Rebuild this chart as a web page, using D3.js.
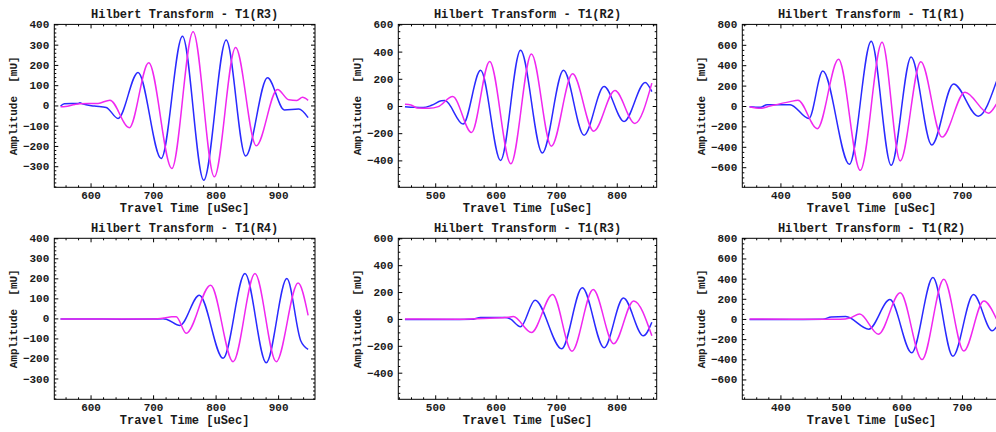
<!DOCTYPE html>
<html>
<head>
<meta charset="utf-8">
<script src="https://cdn.jsdelivr.net/npm/d3@7"></script>
<style>
  html, body { margin: 0; padding: 0; background: #fff; }
  svg { display: block; }
  .lbl { font-family: "Liberation Mono", "Courier New", monospace; font-weight: bold; fill: #1a1a1a; }
</style>
</head>
<body>
<svg id="chart" width="996" height="432"></svg>
<script>
// ---- panel titles (row-major: top row, then bottom row) ----
const titles = [
  "Hilbert Transform - T1(R3)", "Hilbert Transform - T1(R2)", "Hilbert Transform - T1(R1)",
  "Hilbert Transform - T1(R4)", "Hilbert Transform - T1(R3)", "Hilbert Transform - T1(R2)"
];

// ---- tick labels per column ----
const xTicksByCol = [[600, 700, 800, 900], [500, 600, 700, 800], [400, 500, 600, 700]];
const yTicksByCol = [
  [-300, -200, -100, 0, 100, 200, 300, 400],
  [-400, -200, 0, 200, 400, 600],
  [-600, -400, -200, 0, 200, 400, 600, 800]
];
const xMinorStep = 20;
const yMinorStepByCol = [20, 50, 50];

// ---- axis ranges per column ----
const timeRangeByCol = [[542, 959], [439, 866], [337, 764]];
const ampRangeByCol = [[-404, 400], [-598, 600], [-797, 800]];

// ---- waveforms: [travel time uSec, amplitude mU] ----
// T1(R3), upper row
const r3aSignal = [[552,-3],[558,8],[580,10],[583,13],[587,8],[606,-3],[625,-10],[644,-64],[676,163],[713,-262],[747,342],[781,-369],[817,323],[848,-250],[883,137],[910,-22],[933,-18],[948,-60]];
const r3aHilbert = [[552,-7],[560,-5],[575,5],[583,8],[612,10],[631,26],[662,-110],[693,211],[730,-311],[764,364],[798,-352],[832,286],[865,-199],[899,79],[917,28],[930,25],[939,40],[948,25]];
// T1(R2), upper row
const r2aSignal = [[450,-5],[466,-10],[480,-12],[494,5],[510,38],[516,40],[546,-133],[575,262],[608,-400],[641,410],[677,-346],[712,262],[746,-215],[779,143],[812,-114],[847,173],[858,106]];
const r2aHilbert = [[450,12],[460,8],[470,-15],[490,-17],[505,-5],[529,69],[560,-195],[590,328],[625,-425],[659,383],[692,-296],[727,237],[762,-185],[797,114],[830,-128],[858,168]];
// T1(R1), upper row
const r1aSignal = [[349,-7],[367,-13],[378,13],[416,13],[447,-123],[470,342],[514,-571],[550,634],[583,-581],[616,481],[650,-382],[686,216],[727,-100],[757,240]];
const r1aHilbert = [[349,-7],[367,-23],[383,0],[416,43],[429,56],[461,-222],[496,458],[532,-631],[568,624],[598,-538],[632,435],[667,-305],[705,136],[744,-70],[757,20]];
// T1(R4), lower row
const r4bSignal = [[552,-3],[600,-3],[650,-4],[700,-3],[716,-2],[722,-5],[743,-35],[774,116],[812,-199],[847,224],[881,-221],[914,199],[936,-110],[948,-155]];
const r4bHilbert = [[552,-3],[620,-3],[700,-3],[718,2],[730,8],[737,8],[753,-74],[792,166],[828,-216],[863,224],[897,-216],[932,177],[948,15]];
// T1(R3), lower row
const r3bSignal = [[450,-5],[520,-5],[560,-3],[575,10],[615,10],[624,0],[641,-58],[665,139],[709,-222],[743,232],[779,-214],[811,156],[844,-126],[858,-25]];
const r3bHilbert = [[450,0],[540,-3],[590,5],[620,12],[629,18],[659,-101],[694,182],[726,-240],[761,219],[795,-184],[828,134],[858,-126]];
// T1(R2), lower row
const r2bSignal = [[349,-5],[420,-5],[470,-3],[484,20],[508,24],[546,-101],[581,192],[617,-336],[652,410],[685,-370],[719,242],[750,-118],[757,-80]];
const r2bHilbert = [[349,0],[420,-3],[499,-3],[515,10],[531,50],[562,-151],[598,259],[634,-403],[670,393],[703,-319],[736,178],[757,0]];

const signals = [r3aSignal, r2aSignal, r1aSignal, r4bSignal, r3bSignal, r2bSignal];
const hilberts = [r3aHilbert, r2aHilbert, r1aHilbert, r4bHilbert, r3bHilbert, r2bHilbert];

// ---- layout (frame boxes) ----
const colX = [[54.3, 315], [398.3, 656.7], [742.3, 1000.7]];
const rowY = [[24.4, 187.3], [238.3, 399.3]];

const svg = d3.select("#chart");
const FONT = '"Liberation Mono", "Courier New", monospace';

function minorValues(domain, step, majors) {
  const out = [];
  const start = Math.ceil(domain[0] / step) * step;
  for (let v = start; v <= domain[1]; v += step) {
    if (!majors.includes(v)) out.push(v);
  }
  return out;
}

titles.forEach((title, i) => {
  const col = i % 3, row = Math.floor(i / 3);
  const [x0, x1] = colX[col];
  const [y0, y1] = rowY[row];
  const x = d3.scaleLinear().domain(timeRangeByCol[col]).range([x0, x1]);
  const y = d3.scaleLinear().domain(ampRangeByCol[col]).range([y1, y0]);
  const g = svg.append("g");

  const clipId = "clip" + i;
  svg.append("clipPath").attr("id", clipId)
    .append("rect").attr("x", x0).attr("y", y0).attr("width", x1 - x0).attr("height", y1 - y0);

  const line = d3.line().x(d => x(d[0])).y(d => y(d[1])).curve(d3.curveMonotoneX);
  const plot = g.append("g").attr("clip-path", `url(#${clipId})`);
  plot.append("path").attr("d", line(signals[i]))
    .attr("fill", "none").attr("stroke", "#2a2aff").attr("stroke-width", 1.5).attr("stroke-linejoin", "round");
  plot.append("path").attr("d", line(hilberts[i]))
    .attr("fill", "none").attr("stroke", "#f028f0").attr("stroke-width", 1.5).attr("stroke-linejoin", "round");

  const xMaj = xTicksByCol[col];
  const yMaj = yTicksByCol[col];
  const xMin = minorValues(timeRangeByCol[col], xMinorStep, xMaj);
  const yMin = minorValues(ampRangeByCol[col], yMinorStepByCol[col], yMaj);

  const styleAxis = sel => {
    sel.select(".domain").remove();
    sel.selectAll("line").attr("stroke", "#000");
    sel.selectAll("text").attr("class", "lbl").attr("font-family", FONT).attr("font-size", 11);
  };

  // bottom: labelled majors + minors
  g.append("g").attr("transform", `translate(0,${y1})`)
    .call(d3.axisBottom(x).tickValues(xMaj).tickSizeInner(-4).tickSizeOuter(0).tickPadding(4).tickFormat(d3.format("d")))
    .call(styleAxis);
  g.append("g").attr("transform", `translate(0,${y1})`)
    .call(d3.axisBottom(x).tickValues(xMin).tickSizeInner(-2).tickSizeOuter(0).tickFormat(""))
    .call(styleAxis);
  // top: unlabelled
  g.append("g").attr("transform", `translate(0,${y0})`)
    .call(d3.axisTop(x).tickValues(xMaj).tickSizeInner(-4).tickSizeOuter(0).tickFormat(""))
    .call(styleAxis);
  g.append("g").attr("transform", `translate(0,${y0})`)
    .call(d3.axisTop(x).tickValues(xMin).tickSizeInner(-2).tickSizeOuter(0).tickFormat(""))
    .call(styleAxis);
  // left: labelled
  g.append("g").attr("transform", `translate(${x0},0)`)
    .call(d3.axisLeft(y).tickValues(yMaj).tickSizeInner(-4).tickSizeOuter(0).tickPadding(5).tickFormat(d3.format("d")))
    .call(styleAxis);
  g.append("g").attr("transform", `translate(${x0},0)`)
    .call(d3.axisLeft(y).tickValues(yMin).tickSizeInner(-2).tickSizeOuter(0).tickFormat(""))
    .call(styleAxis);
  // right: unlabelled
  g.append("g").attr("transform", `translate(${x1},0)`)
    .call(d3.axisRight(y).tickValues(yMaj).tickSizeInner(-4).tickSizeOuter(0).tickFormat(""))
    .call(styleAxis);
  g.append("g").attr("transform", `translate(${x1},0)`)
    .call(d3.axisRight(y).tickValues(yMin).tickSizeInner(-2).tickSizeOuter(0).tickFormat(""))
    .call(styleAxis);

  // frame
  g.append("rect").attr("x", x0).attr("y", y0).attr("width", x1 - x0).attr("height", y1 - y0)
    .attr("fill", "none").attr("stroke", "#000").attr("stroke-width", 1);

  const cx = (x0 + x1) / 2, cy = (y0 + y1) / 2;
  // title
  g.append("text").attr("class", "lbl").attr("x", cx).attr("y", y0 - 6)
    .attr("text-anchor", "middle").attr("font-size", 12).text(title);
  // x axis title
  g.append("text").attr("class", "lbl").attr("x", cx).attr("y", y1 + 25)
    .attr("text-anchor", "middle").attr("font-size", 12).text("Travel Time [uSec]");
  // y axis title
  g.append("text").attr("class", "lbl")
    .attr("transform", `translate(${x0 - 37},${cy}) rotate(-90)`)
    .attr("text-anchor", "middle").attr("font-size", 11).attr("xml:space", "preserve")
    .style("white-space", "pre").text("Amplitude  [mU]");
});
</script>
</body>
</html>
